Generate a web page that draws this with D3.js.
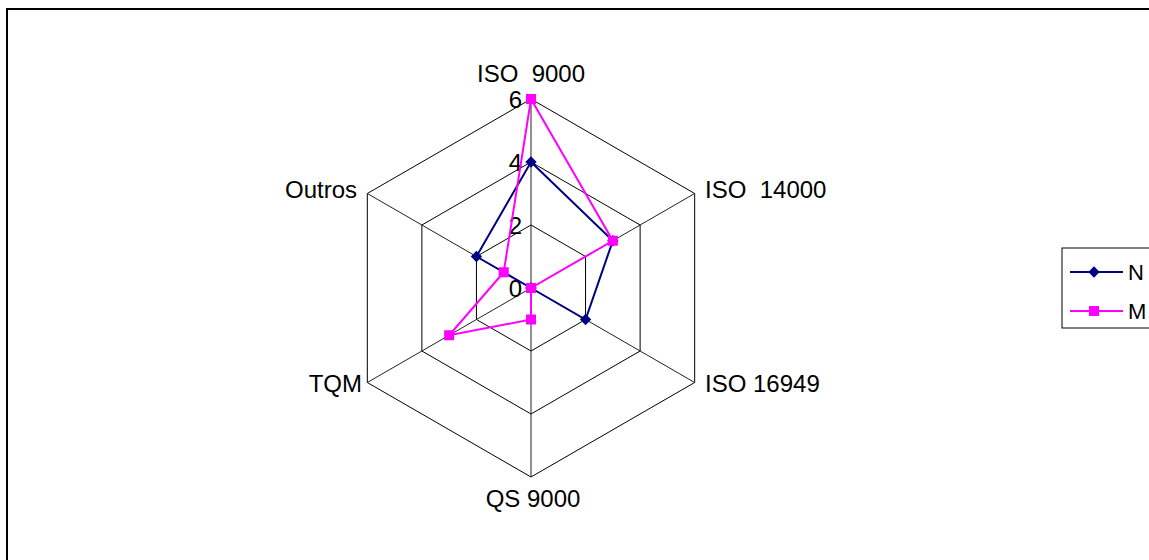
<!DOCTYPE html>
<html>
<head>
<meta charset="utf-8">
<script src="https://cdn.jsdelivr.net/npm/d3@7"></script>
<style>
  html, body { margin: 0; padding: 0; background: #fff; }
  svg { display: block; font-family: "Liberation Sans", Arial, sans-serif; }
</style>
</head>
<body>
<svg id="chart" width="1149" height="560"></svg>
<script>
// Axis categories (clockwise from the top)
const categories = ["ISO  9000", "ISO  14000", "ISO 16949", "QS 9000", "TQM", "Outros"];
// Series values
const seriesN = [4, 3, 2, 0, 0, 2];
const seriesM = [6, 3, 0, 1, 3, 1];
const seriesNames = ["N", "M"];
// Radial tick labels
const ticks = [0, 2, 4, 6];

const svg = d3.select("#chart");
const cx = 531, cy = 288, R = 189;

// Outer frame
svg.append("rect")
  .attr("x", 7).attr("y", 9).attr("width", 1300).attr("height", 700)
  .attr("fill", "none").attr("stroke", "#000").attr("stroke-width", 2);

const r = d3.scaleLinear().domain([0, 6]).range([0, R]);
const angle = d3.scalePoint().domain(d3.range(categories.length))
  .range([0, 2 * Math.PI * (categories.length - 1) / categories.length]);

const g = svg.append("g").attr("transform", `translate(${cx},${cy})`);

const radial = d3.lineRadial()
  .angle((d, i) => angle(i))
  .radius(d => r(d))
  .curve(d3.curveLinearClosed);

const pt = (i, v) => {
  const a = angle(i) - Math.PI / 2;
  return [r(v) * Math.cos(a), r(v) * Math.sin(a)];
};

// Grid rings
ticks.filter(t => t > 0).forEach(t => {
  g.append("path")
    .attr("d", radial(categories.map(() => t)))
    .attr("fill", "none").attr("stroke", "#000").attr("stroke-width", 1);
});

// Spokes
categories.forEach((c, i) => {
  const [x, y] = pt(i, 6);
  g.append("line").attr("x1", 0).attr("y1", 0).attr("x2", x).attr("y2", y)
    .attr("stroke", "#222").attr("stroke-width", 1);
});

// Tick labels along the top spoke
g.selectAll("text.tick").data(ticks).enter().append("text")
  .attr("class", "tick")
  .attr("x", -9).attr("y", d => -r(d))
  .attr("dy", "0.36em")
  .attr("text-anchor", "end")
  .attr("font-size", 24)
  .text(d => d);

// Category labels
const labelPos = [
  { dx: 0, dy: -206, anchor: "middle" },
  { dx: 174, dy: -90, anchor: "start" },
  { dx: 174, dy: 104, anchor: "start" },
  { dx: 2, dy: 219, anchor: "middle" },
  { dx: -169, dy: 104, anchor: "end" },
  { dx: -174, dy: -90, anchor: "end" }
];
categories.forEach((c, i) => {
  g.append("text")
    .attr("x", labelPos[i].dx).attr("y", labelPos[i].dy)
    .attr("text-anchor", labelPos[i].anchor)
    .attr("font-size", 24)
    .style("white-space", "pre")
    .text(c);
});

const colors = { N: "#000080", M: "#FF00FF" };
const diamond = d3.symbol().type(d3.symbolSquare).size(64)();
const square = d3.symbol().type(d3.symbolSquare).size(100)();

function drawSeries(values, name) {
  g.append("path")
    .attr("d", radial(values))
    .attr("fill", "none").attr("stroke", colors[name]).attr("stroke-width", 2);
  values.forEach((v, i) => {
    const [x, y] = pt(i, v);
    g.append("path")
      .attr("d", name === "N" ? diamond : square)
      .attr("transform", `translate(${x},${y})` + (name === "N" ? " rotate(45)" : ""))
      .attr("fill", colors[name]);
  });
}
drawSeries(seriesN, "N");
drawSeries(seriesM, "M");

// Legend
const lg = svg.append("g").attr("transform", "translate(1062,248)");
lg.append("rect").attr("x", 0).attr("y", 0).attr("width", 120).attr("height", 80)
  .attr("fill", "#fff").attr("stroke", "#000").attr("stroke-width", 1);
seriesNames.forEach((name, i) => {
  const y = 24 + i * 39;
  lg.append("line").attr("x1", 8).attr("x2", 61).attr("y1", y).attr("y2", y)
    .attr("stroke", colors[name]).attr("stroke-width", 2);
  lg.append("path")
    .attr("d", name === "N" ? diamond : square)
    .attr("transform", `translate(32,${y})` + (name === "N" ? " rotate(45)" : ""))
    .attr("fill", colors[name]);
  lg.append("text").attr("x", 66).attr("y", y).attr("dy", "0.36em")
    .attr("font-size", 22).text(name);
});
</script>
</body>
</html>
